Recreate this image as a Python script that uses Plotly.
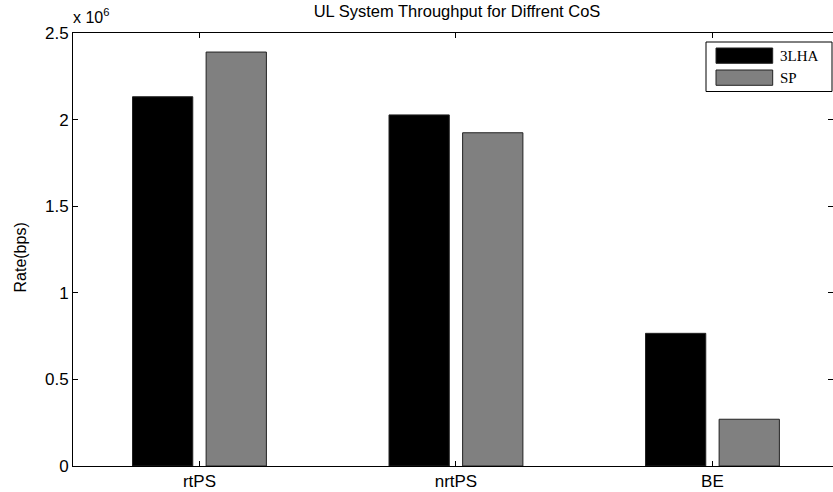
import plotly.graph_objects as go

categories = ["rtPS", "nrtPS", "BE"]
series_names = ["3LHA", "SP"]
lha_values = [2.132e6, 2.027e6, 0.766e6]
sp_values = [2.390e6, 1.924e6, 0.270e6]
series_colors = ["#000000", "#808080"]
ytick_vals = [0, 0.5e6, 1.0e6, 1.5e6, 2.0e6, 2.5e6]
ytick_text = ["0", "0.5", "1", "1.5", "2", "2.5"]

W, H = 833, 492
L, R, T, B = 73, 833, 33, 466  # plot area in pixels


def px(xp):
    return (xp - L) / (R - L)


def py(yp):
    return (B - yp) / (B - T)


fig = go.Figure()
bar_width = 0.235
offsets = [-0.261, 0.026]
for name, vals, col, off in zip(series_names, [lha_values, sp_values], series_colors, offsets):
    fig.add_trace(go.Bar(
        x=categories, y=vals, name=name,
        marker=dict(color=col, line=dict(color="#222222", width=1)),
        width=bar_width, offset=off, showlegend=False,
    ))

sans = "Liberation Sans, Arial, sans-serif"
axis_font = dict(family=sans, size=17, color="black")

fig.update_layout(
    width=W, height=H,
    margin=dict(l=L, r=W - R, t=T, b=H - B, pad=0),
    plot_bgcolor="white", paper_bgcolor="white",
    barmode="overlay",
    font=axis_font,
    title=dict(text="UL System Throughput for Diffrent CoS", x=457 / W, xref="container",
               xanchor="center", y=1 - 11 / H, yanchor="middle",
               font=dict(family=sans, size=16.5, color="black")),
    xaxis=dict(range=[-0.493, 2.470], showline=True, linecolor="black", linewidth=1, mirror="ticks",
               ticks="inside", ticklen=5, tickcolor="black", showgrid=False, zeroline=False,
               tickfont=axis_font),
    yaxis=dict(range=[0, 2.5e6], tickvals=ytick_vals, ticktext=ytick_text, showline=True,
               linecolor="black", linewidth=1, mirror="ticks", ticks="inside", ticklen=5,
               tickcolor="black", showgrid=False, zeroline=False, tickfont=axis_font),
)

# y axis label
fig.add_annotation(text="Rate(bps)", xref="paper", yref="paper", x=px(19.5), y=py(258),
                   textangle=-90, showarrow=False, xanchor="center", yanchor="middle",
                   font=dict(family=sans, size=16, color="black"))
# exponent
fig.add_annotation(text="x 10<sup>6</sup>", xref="paper", yref="paper", x=px(71), y=py(16),
                   showarrow=False, xanchor="left", yanchor="middle",
                   font=dict(family=sans, size=16, color="black"))

# legend box (drawn manually, MATLAB style)
fig.add_shape(type="rect", xref="paper", yref="paper", x0=px(706), x1=px(832), y0=py(91.5), y1=py(42),
              line=dict(color="black", width=1), fillcolor="white")
legend_rows = [(48, 63.3), (70, 85.3)]
for (top, bot), name, col in zip(legend_rows, series_names, series_colors):
    fig.add_shape(type="rect", xref="paper", yref="paper", x0=px(716), x1=px(772.7), y0=py(bot), y1=py(top),
                  line=dict(color="#222222", width=1), fillcolor=col)
    fig.add_annotation(text=name, xref="paper", yref="paper", x=px(778), y=py((top + bot) / 2),
                       showarrow=False, xanchor="left", yanchor="middle",
                       font=dict(family="Liberation Serif, Times New Roman, serif", size=15, color="black"))

fig.write_html("out.html", config={"displayModeBar": False},
               post_script="document.body.style.margin='0';document.body.style.padding='0';"
                           "document.body.style.overflow='hidden';")
